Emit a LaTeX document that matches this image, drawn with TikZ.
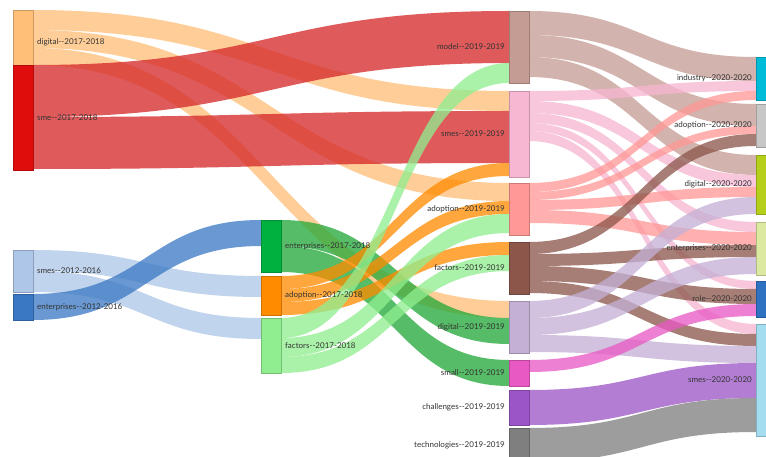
\documentclass[tikz,border=0pt]{standalone}
\usepackage{fontspec}
\newfontfamily\labfont{Lato}
\usetikzlibrary{calc}
\pgfdeclarelayer{bg}
\pgfsetlayers{bg,main}
\definecolor{cD17}{HTML}{FFBF78}
\definecolor{cSME}{HTML}{E00D0D}
\definecolor{fSME}{HTML}{D62728}
\definecolor{cSMES12}{HTML}{AEC7E8}
\definecolor{cENT12}{HTML}{3A78C4}
\definecolor{cENT17}{HTML}{00B140}
\definecolor{fENT17}{HTML}{22A838}
\definecolor{cAD17}{HTML}{FF8C00}
\definecolor{cFA17}{HTML}{90EE90}
\definecolor{cMO19}{HTML}{C49C94}
\definecolor{cSM19}{HTML}{F7B6D2}
\definecolor{cAD19}{HTML}{FF9896}
\definecolor{cFA19}{HTML}{8C564B}
\definecolor{cDI19}{HTML}{C5B0D5}
\definecolor{cSL19}{HTML}{E859C4}
\definecolor{cCH19}{HTML}{9B55C6}
\definecolor{cTE19}{HTML}{7F7F7F}
\definecolor{cIN20}{HTML}{00BCD8}
\definecolor{cAD20}{HTML}{C7C7C7}
\definecolor{cDI20}{HTML}{B5CF1A}
\definecolor{cEN20}{HTML}{DCE9A0}
\definecolor{cRO20}{HTML}{2F72C2}
\definecolor{cSM20}{HTML}{A3DDEF}
\newcommand\twohy{-\kern0pt-}
% flow: source, source offset, target, target offset, width, colour
\newcommand\flow[6]{%
  \begin{pgfonlayer}{bg}
  \path[fill=#6, fill opacity=0.76]
    let \p1=([yshift=-#2pt]#1.north east), \p2=([yshift=-#4pt]#3.north west),
        \p3=($(\p1)!0.5!(\p2)$) in
    (\p1) .. controls (\x3,\y1) and (\x3,\y2) .. (\p2)
    -- (\x2,\y2-#5pt) .. controls (\x3,\y2-#5pt) and (\x3,\y1-#5pt) .. (\x1,\y1-#5pt) -- cycle;
  \end{pgfonlayer}}
\tikzset{
  box/.style={draw=#1!80!black, fill=#1, minimum width=20pt, inner sep=0pt,
    outer sep=0pt, anchor=north west, line width=0.4pt},
  lab/.style={font=\labfont\fontsize{8}{9.5}\selectfont, text=black!80,
    inner sep=0pt, label distance=4pt},
}
\begin{document}
\begin{tikzpicture}[x=1pt,y=-1pt]
\useasboundingbox (0,0) rectangle (766,457);
\begin{pgfonlayer}{bg}
\fill[white] (0,0) rectangle (766,457);
\end{pgfonlayer}
% column 1
\node[box=cD17, minimum height=55pt, label={[lab,yshift=-5pt]east:digital\twohy 2017-2018}] (d17) at (13,10) {};
\node[box=cSME, minimum height=105pt, label={[lab]east:sme\twohy 2017-2018}] (sme17) at (13,65) {};
\node[box=cSMES12, minimum height=42pt, label={[lab]east:smes\twohy 2012-2016}] (smes12) at (13,250) {};
\node[box=cENT12, minimum height=26pt, label={[lab]east:enterprises\twohy 2012-2016}] (ent12) at (13,294) {};
% column 2
\node[box=cENT17, minimum height=52pt, label={[lab]east:enterprises\twohy 2017-2018}] (ent17) at (261,220) {};
\node[box=cAD17, minimum height=39pt, label={[lab]east:adoption\twohy 2017-2018}] (ad17) at (261,276) {};
\node[box=cFA17, minimum height=55pt, label={[lab]east:factors\twohy 2017-2018}] (fa17) at (261,318) {};
% column 3
\node[box=cMO19, minimum height=72pt, label={[lab]west:model\twohy 2019-2019}] (mo19) at (509,11) {};
\node[box=cSM19, minimum height=86pt, label={[lab]west:smes\twohy 2019-2019}] (sm19) at (509,91) {};
\node[box=cAD19, minimum height=52pt, label={[lab]west:adoption\twohy 2019-2019}] (ad19) at (509,183) {};
\node[box=cFA19, minimum height=52pt, label={[lab]west:factors\twohy 2019-2019}] (fa19) at (509,242) {};
\node[box=cDI19, minimum height=52pt, label={[lab]west:digital\twohy 2019-2019}] (di19) at (509,301) {};
\node[box=cSL19, minimum height=26pt, label={[lab]west:small\twohy 2019-2019}] (sl19) at (509,360) {};
\node[box=cCH19, minimum height=35pt, label={[lab]west:challenges\twohy 2019-2019}] (ch19) at (509,390) {};
\node[box=cTE19, minimum height=34pt, label={[lab]west:technologies\twohy 2019-2019}] (te19) at (509,428) {};
% column 4
\node[box=cIN20, minimum height=43pt, label={[lab]west:industry\twohy 2020-2020}] (in20) at (756,57) {};
\node[box=cAD20, minimum height=43pt, label={[lab]west:adoption\twohy 2020-2020}] (ad20) at (756,104) {};
\node[box=cDI20, minimum height=59pt, label={[lab]west:digital\twohy 2020-2020}] (di20) at (756,155) {};
\node[box=cEN20, minimum height=53pt, label={[lab]west:enterprises\twohy 2020-2020}] (en20) at (756,222) {};
\node[box=cRO20, minimum height=36pt, label={[lab]west:role\twohy 2020-2020}] (ro20) at (756,281) {};
\node[box=cSM20, minimum height=112pt, label={[lab]west:smes\twohy 2020-2020}] (sm20) at (756,324) {};
% flows column 1 -> 2/3
\flow{d17}{0}{sm19}{0}{20}{cD17}
\flow{d17}{20}{ad19}{0}{18}{cD17}
\flow{d17}{38}{di19}{0}{17}{cD17}
\flow{sme17}{0}{mo19}{0}{52}{fSME}
\flow{sme17}{52}{sm19}{20}{52}{fSME}
\flow{smes12}{0}{ad17}{0}{21}{cSMES12}
\flow{smes12}{21}{fa17}{0}{21}{cSMES12}
\flow{ent12}{0}{ent17}{0}{26}{cENT12}
% flows column 2 -> 3
\flow{ent17}{0}{di19}{17}{26}{fENT17}
\flow{ent17}{26}{sl19}{0}{26}{fENT17}
\flow{ad17}{0}{sm19}{72}{13}{cAD17}
\flow{ad17}{13}{ad19}{18}{13}{cAD17}
\flow{ad17}{26}{fa19}{0}{13}{cAD17}
\flow{fa17}{0}{mo19}{52}{20}{cFA17}
\flow{fa17}{20}{ad19}{31}{19}{cFA17}
\flow{fa17}{39}{fa19}{13}{16}{cFA17}
% flows column 3 -> 4
\flow{mo19}{0}{in20}{0}{24}{cMO19}
\flow{mo19}{24}{ad20}{0}{22}{cMO19}
\flow{mo19}{46}{di20}{0}{20}{cMO19}
\flow{sm19}{0}{in20}{24}{10}{cSM19}
\flow{sm19}{10}{di20}{20}{12}{cSM19}
\flow{sm19}{22}{en20}{0}{10}{cSM19}
\flow{sm19}{32}{ro20}{0}{8}{cSM19}
\flow{sm19}{40}{sm20}{0}{10}{cSM19}
\flow{ad19}{0}{in20}{34}{9}{cAD19}
\flow{ad19}{9}{ad20}{22}{8}{cAD19}
\flow{ad19}{17}{di20}{32}{10}{cAD19}
\flow{ad19}{27}{en20}{10}{13}{cAD19}
\flow{fa19}{0}{ad20}{30}{12}{cFA19}
\flow{fa19}{12}{en20}{23}{12}{cFA19}
\flow{fa19}{24}{ro20}{8}{15}{cFA19}
\flow{fa19}{39}{sm20}{10}{12}{cFA19}
\flow{di19}{0}{di20}{42}{17}{cDI19}
\flow{di19}{17}{en20}{35}{17}{cDI19}
\flow{di19}{34}{sm20}{22}{17}{cDI19}
\flow{sl19}{0}{ro20}{23}{12}{cSL19}
\flow{ch19}{0}{sm20}{39}{35}{cCH19}
\flow{te19}{0}{sm20}{74}{34}{cTE19}
\end{tikzpicture}
\end{document}
